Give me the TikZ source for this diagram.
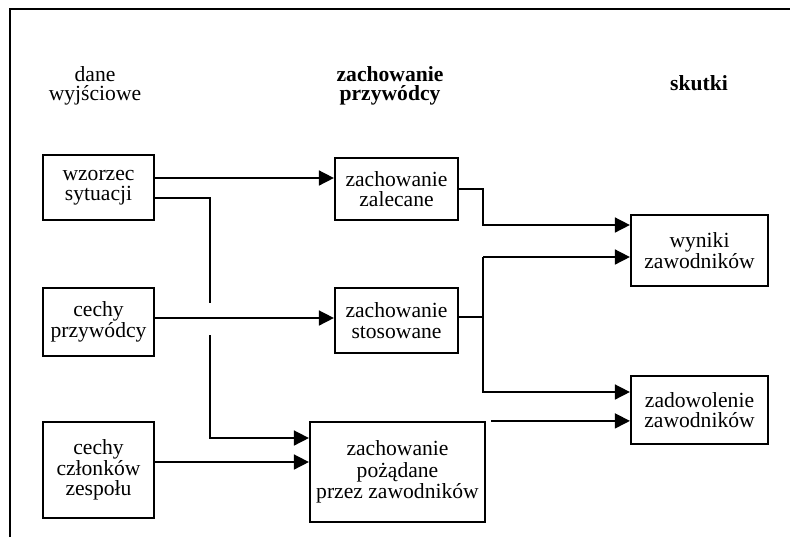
\documentclass[tikz,border=0pt]{standalone}
\usepackage{fontspec}
\setmainfont{Liberation Serif}
\usetikzlibrary{arrows.meta,positioning,calc}

\begin{document}
\begin{tikzpicture}[x=0.5pt,y=-0.5pt,
  box node/.style={draw,line width=1.1pt,align=center,inner sep=0pt,font=\fontsize{10.8}{10.2}\selectfont},
  head node/.style={align=center,font=\fontsize{10.8}{9.8}\selectfont},
  bold head/.style={align=center,font=\fontsize{10.8}{9.8}\selectfont\bfseries},
  link/.style={line width=0.8pt},
  arr/.style={link,-{Triangle[length=7.5pt,width=7.5pt]}}]
\useasboundingbox (0,0) rectangle (790,537);
\draw[line width=1.1pt] (10,537)--(10,9)--(790,9);
% headers
\node[head node] (h1) at (95,86) {dane\\wyjściowe};
\node[bold head] (h2) at (390,86) {zachowanie\\przywódcy};
\node[bold head] (h3) at (699,83) {skutki};
% boxes
\node[box node,minimum width=55.5pt,minimum height=32.5pt] (wz) at (98.5,187.5) {wzorzec\\sytuacji};
\node[box node,minimum width=55.5pt,minimum height=34pt] (cp) at (98.5,322) {cechy\\przywódcy};
\node[box node,minimum width=55.5pt,minimum height=48pt] (cz) at (98.5,470) {cechy\\członków\\zespołu};
\node[box node,minimum width=61.5pt,minimum height=31pt] (zal) at (396.5,189) {zachowanie\\zalecane};
\node[box node,minimum width=61.5pt,minimum height=32.5pt] (sto) at (396.5,320.5) {zachowanie\\stosowane};
\node[box node,minimum width=87.5pt,minimum height=50pt,font=\fontsize{10.8}{10.8}\selectfont] (poz) at (397.5,472) {zachowanie\\pożądane\\przez zawodników};
\node[box node,minimum width=68.5pt,minimum height=35.5pt] (wyn) at (699.5,250.5) {wyniki\\zawodników};
\node[box node,minimum width=68.5pt,minimum height=34pt] (zad) at (699.5,410) {zadowolenie\\zawodników};
% connectors
\coordinate (j1) at (210,303);
\coordinate (j2) at (210,335);
\coordinate (b1) at (483,225);
\coordinate (b2) at (483,257);
\coordinate (b3) at (483,392);
\draw[arr] ([yshift=4.75pt]wz.east) -- ([yshift=4.75pt]wz.east -| zal.west);
\draw[arr] ([yshift=-5.25pt]wz.east) -| (j1) (j2) |- ([yshift=17pt]poz.west);
\draw[arr] ([yshift=2pt]cp.east) -- ([yshift=2pt]cp.east -| sto.west);
\draw[arr] ([yshift=4pt]cz.east) -- ([yshift=4pt]cz.east -| poz.west);
\draw[arr] (zal.east) -| (b1) -- (b1 -| wyn.west);
\draw[link] ([yshift=1.75pt]sto.east) -- ([yshift=1.75pt]sto.east -| b2);
\draw[arr] (b2) -- (b2 -| wyn.west);
\draw[arr] (b2) -- (b3) -- (b3 -| zad.west);
\draw[arr] ([xshift=2.5pt]poz.north east) -- (poz.north east -| zad.west);
\end{tikzpicture}
\end{document}
